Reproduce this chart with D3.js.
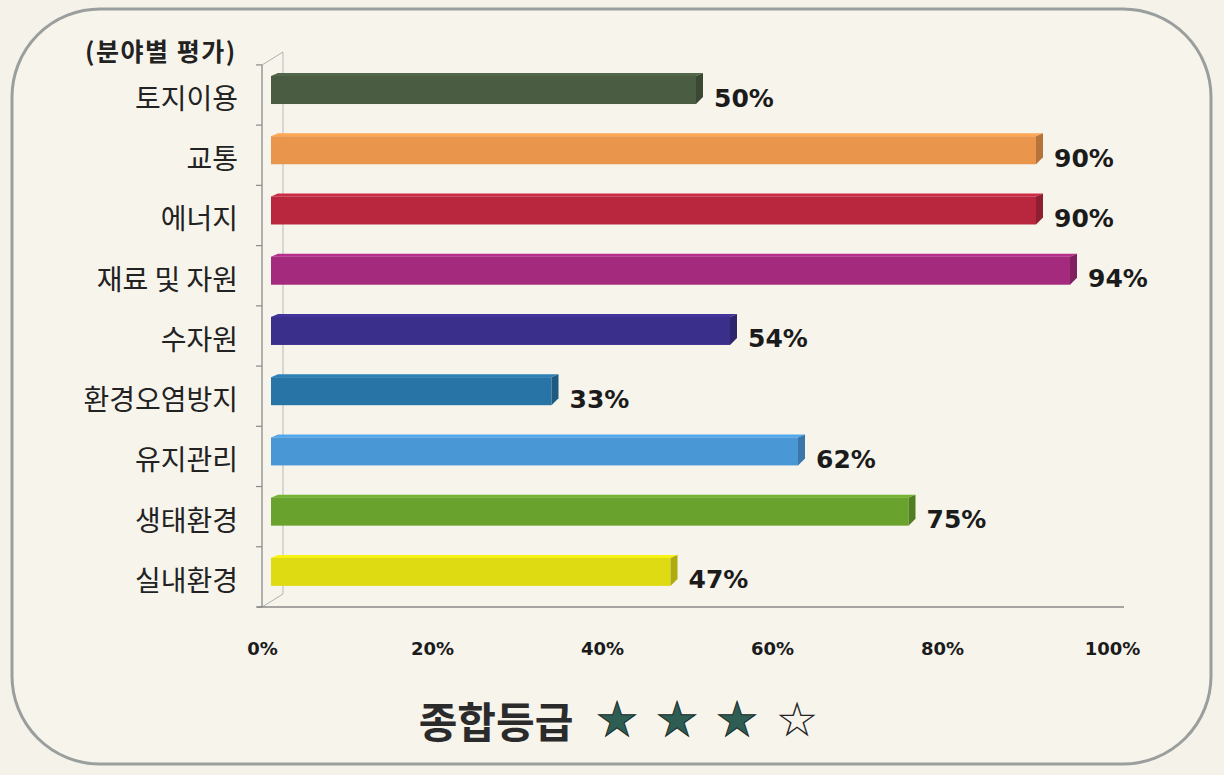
<!DOCTYPE html>
<html><head><meta charset="utf-8">
<script src="https://cdn.jsdelivr.net/npm/d3@7/dist/d3.min.js"></script>
<style>html,body{margin:0;padding:0;background:#f5f2e9;}svg{display:block;}</style>
</head><body>
<svg id="c" width="1224" height="775"></svg>
<script>
const categories = ["토지이용","교통","에너지","재료 및 자원","수자원","환경오염방지","유지관리","생태환경","실내환경"];
const values = [0.50,0.90,0.90,0.94,0.54,0.33,0.62,0.75,0.47];
const labels = ["50%","90%","90%","94%","54%","33%","62%","75%","47%"];
const colors = ["#4a5c42","#e9954c","#b8273e","#a32a7d","#3b2f8c","#2874a6","#4a97d6","#69a22c","#dedb12"];
const tickValues = [0,0.2,0.4,0.6,0.8,1.0];
const axisTitle = "(분야별 평가)";
const gradeLabel = "종합등급";
const stars = ["★","★","★","☆"];

const svg = d3.select("#c");
const KR = "'Noto Sans CJK KR','Noto Sans',sans-serif";
const NUM = "'DejaVu Sans',Verdana,sans-serif";

svg.append("rect").attr("x",0).attr("y",0).attr("width",1224).attr("height",775).attr("fill","#f5f2e9");
svg.append("rect").attr("x",12).attr("y",9).attr("width",1199).attr("height",755)
  .attr("rx",88).attr("ry",88).attr("fill","#f7f4ec").attr("stroke","#9a9f9d").attr("stroke-width",3);

const x = d3.scaleLinear().domain([0,1]).range([271,1121]);
const y = d3.scaleBand().domain(categories).range([59.9,602]).paddingInner(0.535).paddingOuter(0.2675);

// 3D frame lines
const g = svg.append("g");
const dx = 21, dy = 13;
g.append("line").attr("x1",262).attr("y1",65).attr("x2",262).attr("y2",607).attr("stroke","#8a8a8a").attr("stroke-width",1.3);
g.append("line").attr("x1",262+dx).attr("y1",65-dy).attr("x2",262+dx).attr("y2",607-dy).attr("stroke","#b8b8b8").attr("stroke-width",1);
g.append("line").attr("x1",262).attr("y1",65).attr("x2",262+dx).attr("y2",65-dy).attr("stroke","#b0b0b0").attr("stroke-width",1);
g.append("line").attr("x1",262).attr("y1",607).attr("x2",262+dx).attr("y2",607-dy).attr("stroke","#b0b0b0").attr("stroke-width",1);
g.append("line").attr("x1",257).attr("y1",607).attr("x2",1124).attr("y2",607).attr("stroke","#8a8a8a").attr("stroke-width",1.3);
const bounds = categories.map(c => y(c) - y.step()*y.paddingInner()/2).concat([y(categories[8]) + y.bandwidth() + y.step()*y.paddingInner()/2]);
g.selectAll(".yt").data(bounds).join("line").attr("class","yt")
  .attr("x1",256).attr("x2",262).attr("y1",d=>d+5).attr("y2",d=>d+5).attr("stroke","#8a8a8a").attr("stroke-width",1.2);

// bars
const d3dx = 7, d3dy = 3;
const bars = svg.append("g").selectAll("g").data(categories).join("g");
bars.append("polygon").attr("points",(c,i)=>{
  const x0=x(0), x1=x(values[i]), t=y(c);
  return [[x0,t],[x0+d3dx,t-d3dy],[x1+d3dx,t-d3dy],[x1,t]].map(p=>p.join(",")).join(" ");
}).attr("fill",(c,i)=>d3.color(colors[i]).brighter(0.3));
bars.append("rect").attr("x",x(0)).attr("y",c=>y(c)).attr("height",y.bandwidth())
  .attr("width",(c,i)=>x(values[i])-x(0)).attr("fill",(c,i)=>colors[i]);
bars.append("polygon").attr("points",(c,i)=>{
  const x1=x(values[i]), t=y(c), h=y.bandwidth();
  return [[x1,t],[x1+d3dx,t-d3dy],[x1+d3dx,t+h-7],[x1,t+h]].map(p=>p.join(",")).join(" ");
}).attr("fill",(c,i)=>d3.color(colors[i]).darker(0.7));

// value labels
svg.append("g").selectAll("text").data(categories).join("text")
  .attr("x",(c,i)=>x(values[i])+d3dx+11).attr("y",c=>y(c)+y.bandwidth()/2+8)
  .attr("dominant-baseline","central").attr("font-family",NUM).attr("font-weight","bold")
  .attr("font-size",25).attr("fill","#1b1b1b").text((c,i)=>labels[i]);

// category labels
svg.append("g").selectAll("text").data(categories).join("text")
  .attr("x",238).attr("y",c=>y(c)+y.bandwidth()/2+7).attr("text-anchor","end")
  .attr("dominant-baseline","central").attr("font-family",KR).attr("font-size",28)
  .attr("fill","#222").text(c=>c);

svg.append("text").attr("x",85).attr("y",50).attr("dominant-baseline","central")
  .attr("font-family",KR).attr("font-weight","bold").attr("font-size",25).attr("letter-spacing",1.5)
  .attr("fill","#222").text(axisTitle);

// x axis labels
const xa = svg.append("g").attr("transform","translate(-9,648)")
  .call(d3.axisBottom(x).tickValues(tickValues).tickFormat(d3.format(".0%")).tickSize(0));
xa.select(".domain").remove();
xa.selectAll("text").attr("font-family",NUM).attr("font-weight","bold").attr("font-size",18)
  .attr("fill","#1b1b1b").attr("dy",null).attr("y",0).attr("dominant-baseline","central");

// grade
svg.append("text").attr("x",496).attr("y",719).attr("text-anchor","middle").attr("dominant-baseline","central")
  .attr("font-family",KR).attr("font-weight","bold").attr("font-size",42).attr("fill","#2b2b2b").text(gradeLabel);
svg.append("g").selectAll("text").data(stars).join("text")
  .attr("x",(d,i)=>617+i*60).attr("y",719).attr("text-anchor","middle").attr("dominant-baseline","central")
  .attr("font-family","'DejaVu Sans',sans-serif").attr("font-size",48)
  .attr("fill",d=>d==="★"?"#2e5d54":"#222").attr("stroke",d=>d==="★"?"#1a2a27":"none").attr("stroke-width",1)
  .text(d=>d);
</script>
</body></html>
